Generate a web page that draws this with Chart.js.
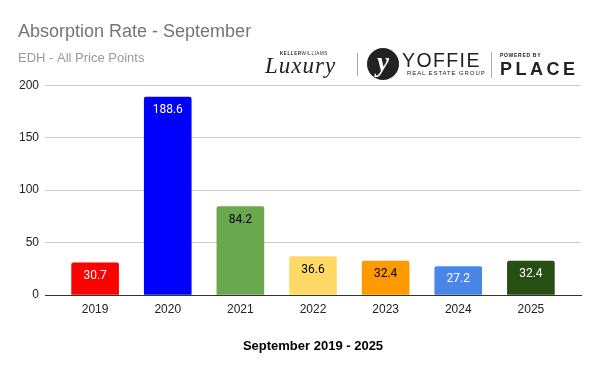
<!DOCTYPE html>
<html>
<head>
<meta charset="utf-8">
<script src="https://cdn.jsdelivr.net/npm/chart.js@4"></script>
<style>
  html, body { margin: 0; padding: 0; background: #fff; }
  #wrap { position: relative; width: 600px; height: 371px; }
  #logo div { position: absolute; color: #222; line-height: 1; white-space: nowrap; }
  .sep { width: 1px; background: #aaa; }
</style>
</head>
<body>
<div id="wrap">
  <canvas id="myChart" width="600" height="371"></canvas>
  <div id="logo">
    <div style="left:280px;top:51px;font:bold 4.5px 'Liberation Sans';letter-spacing:0.6px;">KELLER<span style="font-weight:normal">WILLIAMS</span></div>
    <div style="left:265px;top:53px;font:italic 23px 'Liberation Serif';letter-spacing:1px;">Luxury</div>
    <div class="sep" style="left:357px;top:53px;height:23px;"></div>
    <div style="left:367px;top:48px;width:32px;height:32px;border-radius:50%;background:#222;color:#fff;text-align:center;font:italic bold 27px 'Liberation Serif';line-height:28px;">y</div>
    <div style="left:402px;top:49px;font:19.5px 'Liberation Sans';letter-spacing:1.4px;">YOFFIE</div>
    <div style="left:407px;top:70px;font:6px 'Liberation Sans';letter-spacing:0.9px;">REAL ESTATE GROUP</div>
    <div class="sep" style="left:491px;top:52px;height:26px;"></div>
    <div style="left:500px;top:52px;font:bold 5px 'Liberation Sans';letter-spacing:0.7px;">POWERED BY</div>
    <div style="left:500px;top:59px;font:600 18px 'Liberation Sans';letter-spacing:3.5px;">PLACE</div>
  </div>
</div>
<script>
const years = ["2019", "2020", "2021", "2022", "2023", "2024", "2025"];
const rates = [30.7, 188.6, 84.2, 36.6, 32.4, 27.2, 32.4];
const barColors = ["#ff0000", "#0000ff", "#6aa84f", "#ffd966", "#ff9900", "#4a86e8", "#274e13"];
const labelColors = ["#ffffff", "#ffffff", "#000000", "#000000", "#000000", "#ffffff", "#ffffff"];
const yTicks = [0, 50, 100, 150, 200];

// extra room either side of the first and last bar (in categories)
const sidePad = 0.69;

const barLabels = {
  id: "barLabels",
  afterDatasetsDraw(chart) {
    const c = chart.ctx;
    const meta = chart.getDatasetMeta(0);
    c.save();
    c.font = "12px Roboto";
    c.textAlign = "center";
    c.textBaseline = "middle";
    meta.data.forEach((bar, i) => {
      c.fillStyle = labelColors[i];
      c.fillText(rates[i].toFixed(1), bar.x, bar.y + 13);
    });
    c.restore();
  }
};

const ctx = document.getElementById("myChart").getContext("2d");
const myChart = new Chart(ctx, {
  type: "bar",
  data: {
    labels: years,
    datasets: [{
      data: rates,
      backgroundColor: barColors,
      borderRadius: 2,
      barThickness: 47
    }]
  },
  options: {
    responsive: false,
    animation: false,
    layout: { padding: { left: 18, right: 19, top: 0, bottom: 17 } },
    plugins: {
      legend: { display: false },
      tooltip: { enabled: false },
      title: {
        display: true,
        text: "Absorption Rate - September",
        align: "start",
        color: "#757575",
        font: { family: "Liberation Sans", size: 18, weight: "normal" },
        padding: { top: 21, bottom: 2 }
      },
      subtitle: {
        display: true,
        text: "EDH - All Price Points",
        align: "start",
        color: "#9a9a9a",
        font: { family: "Liberation Sans", size: 13 },
        padding: { top: 6, bottom: 19 }
      }
    },
    scales: {
      x: {
        grid: { display: false, drawTicks: false },
        border: { color: "#333", width: 1 },
        ticks: { color: "#222", padding: 7, font: { family: "Liberation Sans", size: 12 } },
        title: {
          display: true,
          text: "September 2019 - 2025",
          color: "#000",
          font: { family: "Liberation Sans", size: 13, weight: "bold" },
          padding: { top: 15, bottom: 0 }
        },
        afterBuildTicks(scale) {
          scale._startValue = -sidePad;
          scale._valueRange = years.length - 1 + 2 * sidePad;
        }
      },
      y: {
        min: yTicks[0],
        max: yTicks[yTicks.length - 1],
        grid: {
          drawTicks: false,
          color: (c) => c.tick.value === 0 ? "#333" : "#cccccc"
        },
        border: { display: false },
        ticks: {
          stepSize: 50,
          padding: 6,
          color: "#222",
          font: { family: "Liberation Sans", size: 12 }
        },
        afterFit(scale) { scale.width = 27; }
      }
    }
  },
  plugins: [barLabels]
});
</script>
</body>
</html>
